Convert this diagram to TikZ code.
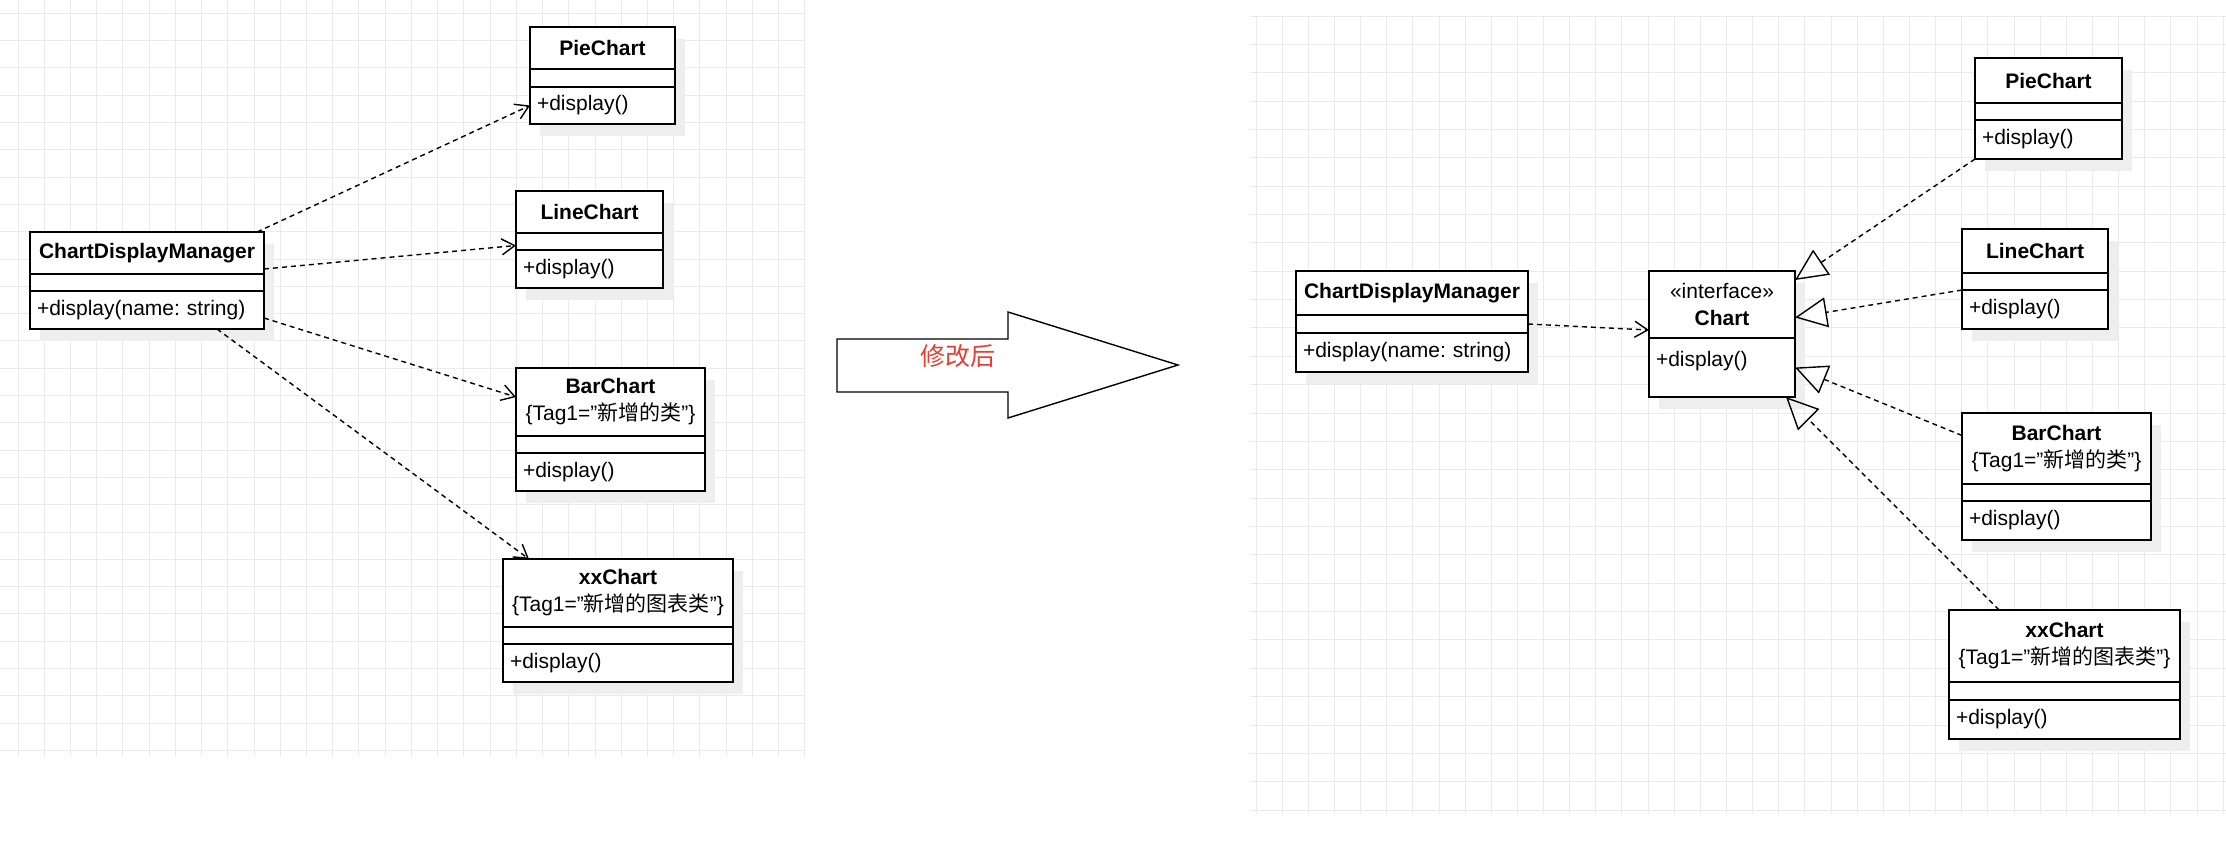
\documentclass[tikz,border=0pt]{standalone}
\usepackage{fontspec}
\setmainfont{Liberation Sans}
\newfontfamily\cjk{Noto Sans CJK SC}
\usepackage{tikz}
\usetikzlibrary{positioning, arrows.meta, shadows}
\definecolor{gridgray}{RGB}{234,234,234}
\definecolor{shadowgray}{RGB}{238,238,238}
\definecolor{tipred}{RGB}{226,62,52}
\newcommand{\dq}{\symbol{34}}

\tikzset{
  cls/.style={draw, line width=1.8pt, fill=white, inner xsep=0pt, inner ysep=0pt, outer sep=0pt,
    minimum width=#1, text width=#1,
    drop shadow={shadow xshift=10pt, shadow yshift=-12pt, fill=shadowgray, opacity=1}},
  ttl/.style={align=center},
  ops/.style={align=left},
  dep/.style={line width=1.4pt, dash pattern=on 5pt off 4pt, -{Straight Barb[length=13pt, width=16pt]}},
  realize/.style={line width=1.4pt, dash pattern=on 5pt off 4pt, -{Triangle[open, length=32pt, width=30pt]}},
  gridline/.style={gridgray, line width=1pt}
}

\begin{document}
\frenchspacing
\begin{tikzpicture}[x=1pt, y=-1pt, font=\fontsize{21pt}{27pt}\selectfont]

\useasboundingbox[fill=white] (0,0) rectangle (2226,846);

% grid of the two canvases
\foreach \i in {0,...,30} \draw[gridline] (18+\i*26.23,0) -- (18+\i*26.23,757);
\foreach \j in {0,...,27} \draw[gridline] (0,13.3+\j*27.3) -- (805,13.3+\j*27.3);
\foreach \i in {0,...,37} \draw[gridline] (1256+\i*26.14,16) -- (1256+\i*26.14,814);
\foreach \j in {0,...,28} \draw[gridline] (1250,16+\j*28.36) -- (2226,16+\j*28.36);

% ------- before

\node[cls=234pt, ttl, minimum height=42pt, anchor=north west] (cdmL) at (30,232) {\textbf{ChartDisplayManager}};
\node[cls=234pt, minimum height=17pt, below=0pt of cdmL] (cdmLattr) {};
\node[cls=234pt, ops, minimum height=38pt, below=0pt of cdmLattr] (cdmLops) {\hspace*{7pt}+display(name: string)};

\node[cls=145pt, ttl, minimum height=42pt, anchor=north west] (pieL) at (530,27) {\textbf{PieChart}};
\node[cls=145pt, minimum height=18pt, below=0pt of pieL] (pieLattr) {};
\node[cls=145pt, ops, minimum height=37pt, below=0pt of pieLattr] (pieLops) {\hspace*{7pt}+display()};

\node[cls=147pt, ttl, minimum height=42pt, anchor=north west] (lineL) at (516,191) {\textbf{LineChart}};
\node[cls=147pt, minimum height=17pt, below=0pt of lineL] (lineLattr) {};
\node[cls=147pt, ops, minimum height=38pt, below=0pt of lineLattr] (lineLops) {\hspace*{7pt}+display()};

\node[cls=189pt, ttl, minimum height=68pt, anchor=north west] (barL) at (516,368) {\textbf{BarChart}\\\{Tag1=\dq{\cjk 新增的类}\dq\}};
\node[cls=189pt, minimum height=17pt, below=0pt of barL] (barLattr) {};
\node[cls=189pt, ops, minimum height=38pt, below=0pt of barLattr] (barLops) {\hspace*{7pt}+display()};

\node[cls=230pt, ttl, minimum height=68pt, anchor=north west] (xxL) at (503,559) {\textbf{xxChart}\\\{Tag1=\dq{\cjk 新增的图表类}\dq\}};
\node[cls=230pt, minimum height=17pt, below=0pt of xxL] (xxLattr) {};
\node[cls=230pt, ops, minimum height=38pt, below=0pt of xxLattr] (xxLops) {\hspace*{7pt}+display()};

\draw[dep] ([xshift=-7pt]cdmL.north east) -- (pieLops.west);
\draw[dep] ([yshift=5pt]cdmL.south east) -- ([yshift=-4pt]lineLattr.west);
\draw[dep] ([yshift=-8pt]cdmLops.east) -- ([yshift=5pt]barL.west);
\draw[dep] ([xshift=-47pt]cdmLops.south east) -- ([xshift=26pt]xxL.north west);

% ------- arrow

\draw[line width=1.4pt, fill=white] (837,339) -- (1008,339) -- (1008,312) -- (1178,365)
  -- (1008,418) -- (1008,392) -- (837,392) -- cycle;
\node[text=tipred, font=\cjk\fontsize{25pt}{30pt}\selectfont] (lbl) at (958,356) {修改后};

% ------- after

\node[cls=232pt, ttl, minimum height=44pt, anchor=north west] (cdmR) at (1296,271) {\textbf{ChartDisplayManager}};
\node[cls=232pt, minimum height=18pt, below=0pt of cdmR] (cdmRattr) {};
\node[cls=232pt, ops, minimum height=39pt, below=0pt of cdmRattr] (cdmRops) {\hspace*{7pt}+display(name: string)};

\node[cls=146pt, ttl, minimum height=67pt, anchor=north west] (chart) at (1649,271) {«interface»\\\textbf{Chart}};
\node[cls=146pt, ops, minimum height=59pt, text height=21pt, text depth=24pt, below=0pt of chart] (chartops) {\hspace*{7pt}+display()};

\node[cls=147pt, ttl, minimum height=45pt, anchor=north west] (pieR) at (1975,58) {\textbf{PieChart}};
\node[cls=147pt, minimum height=17pt, below=0pt of pieR] (pieRattr) {};
\node[cls=147pt, ops, minimum height=39pt, below=0pt of pieRattr] (pieRops) {\hspace*{7pt}+display()};

\node[cls=146pt, ttl, minimum height=44pt, anchor=north west] (lineR) at (1962,229) {\textbf{LineChart}};
\node[cls=146pt, minimum height=17pt, below=0pt of lineR] (lineRattr) {};
\node[cls=146pt, ops, minimum height=39pt, below=0pt of lineRattr] (lineRops) {\hspace*{7pt}+display()};

\node[cls=189pt, ttl, minimum height=71pt, anchor=north west] (barR) at (1962,413) {\textbf{BarChart}\\\{Tag1=\dq{\cjk 新增的类}\dq\}};
\node[cls=189pt, minimum height=17pt, below=0pt of barR] (barRattr) {};
\node[cls=189pt, ops, minimum height=39pt, below=0pt of barRattr] (barRops) {\hspace*{7pt}+display()};

\node[cls=231pt, ttl, minimum height=72pt, anchor=north west] (xxR) at (1949,610) {\textbf{xxChart}\\\{Tag1=\dq{\cjk 新增的图表类}\dq\}};
\node[cls=231pt, minimum height=18pt, below=0pt of xxR] (xxRattr) {};
\node[cls=231pt, ops, minimum height=39pt, below=0pt of xxRattr] (xxRops) {\hspace*{7pt}+display()};

\draw[dep] (cdmRattr.east) -- ([yshift=8pt]chart.south west);
\draw[realize] (pieRops.south west) -- ([yshift=-9pt]chart.north east);
\draw[realize] (lineRops.north west) -- ([yshift=-13pt]chart.east);
\draw[realize] ([yshift=13pt]barR.west) -- (chartops.east);
\draw[realize] ([xshift=50pt]xxR.north west) -- ([xshift=-9pt]chartops.south east);

\end{tikzpicture}
\end{document}
